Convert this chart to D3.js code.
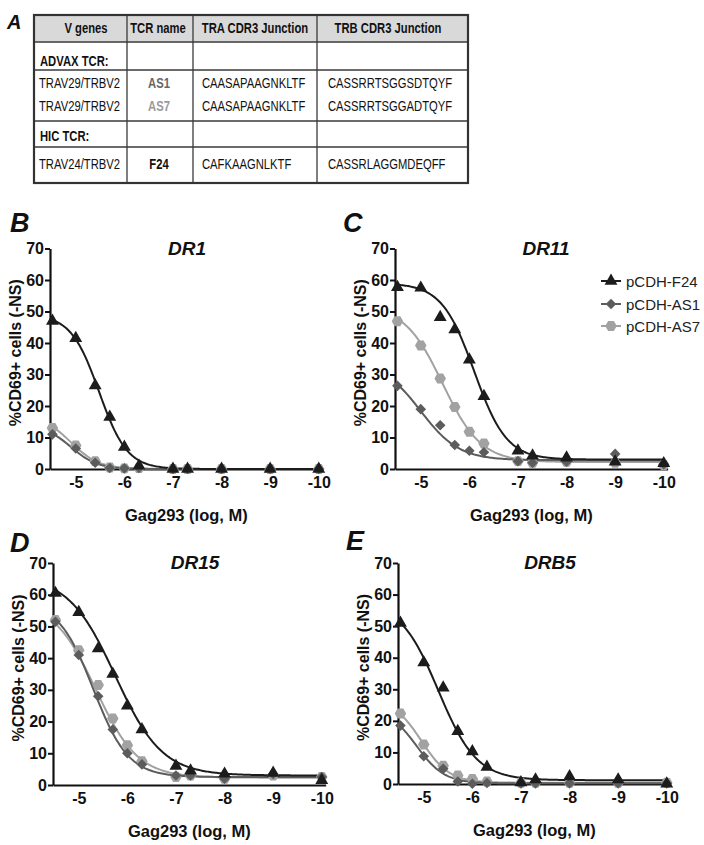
<!DOCTYPE html>
<html>
<head>
<meta charset="utf-8">
<script src="https://cdn.jsdelivr.net/npm/d3@7"></script>
<style>
  html, body { margin: 0; padding: 0; background: #ffffff; }
  svg { display: block; }
  text { font-family: "Liberation Sans", Arial, sans-serif; }
</style>
</head>
<body>
<script>
// ---------------- DATA ----------------
// Table (panel A)
const tableHeaders = ["V genes", "TCR name", "TRA CDR3 Junction", "TRB CDR3 Junction"];
const tcrGroups = ["ADVAX TCR:", "HIC TCR:"];
const vGenes = ["TRAV29/TRBV2", "TRAV29/TRBV2", "TRAV24/TRBV2"];
const tcrNames = ["AS1", "AS7", "F24"];
const traJunctions = ["CAASAPAAGNKLTF", "CAASAPAAGNKLTF", "CAFKAAGNLKTF"];
const trbJunctions = ["CASSRRTSGGSDTQYF", "CASSRRTSGGADTQYF", "CASSRLAGGMDEQFF"];

// Dose-response panels (B-E)
const panelLetters = ["B", "C", "D", "E"];
const panelTitles = ["DR1", "DR11", "DR15", "DRB5"];
const seriesNames = ["pCDH-F24", "pCDH-AS1", "pCDH-AS7"];
const logDoses = [-4.52, -5, -5.4, -5.7, -6, -6.3, -7, -7.3, -8, -9, -10];
const xTickValues = [-5, -6, -7, -8, -9, -10];
const yTickValues = [0, 10, 20, 30, 40, 50, 60, 70];
const xAxisTitle = "Gag293 (log, M)";
const yAxisTitle = "%CD69+ cells (-NS)";

const dr1F24 = [47, 41.5, 26.5, 16.5, 7, 1, 0, 0, 0, 0, 0];
const dr1AS1 = [11, 6.5, 2, 0.3, 0.2, 0.3, 0, 0, 0, 0, 0];
const dr1AS7 = [13, 7.5, 2.5, 0.5, 0.2, 0.3, 0, 0, 0, 0, 0];

const dr11F24 = [57.7, 57.5, 48.2, 44.3, 34.7, 23.1, 5.8, 4.2, 3.6, 2.3, 1.8];
const dr11AS1 = [26.4, 19.0, 13.9, 7.6, 5.8, 5.3, 2.5, 2.0, 2.3, 4.8, 1.5];
const dr11AS7 = [46.9, 39.2, 28.7, 19.7, 11.8, 8.1, 2.5, 2.0, 2.3, 2.0, 1.3];

const dr15F24 = [60.5, 54.5, 43, 35, 25, 17.5, 6, 4.5, 3.5, 3.8, 1.5];
const dr15AS1 = [51.5, 41, 28, 17.5, 10, 6.5, 3, 3, 2, 3.5, 2.5];
const dr15AS7 = [52, 42.5, 31.5, 21, 12.5, 7.5, 2.5, 3, 2, 3, 2.5];

const drb5F24 = [51, 38.5, 30.5, 16.7, 10.3, 5.4, 0.5, 1.4, 2.4, 1.4, 0.1];
const drb5AS1 = [18.5, 8.8, 4.8, 0.8, 0.1, 0.3, 0.2, 0.2, 0.2, 0.2, 0.2];
const drb5AS7 = [22.3, 12.5, 5.8, 2.7, 1.6, 0.8, 0.4, 0.4, 0.4, 0.4, 0.4];

// Sigmoidal fit parameters: [top, bottom, logEC50, hillSlope]
const dr1FitF24 = [49, 0, -5.48, 1.5];
const dr1FitAS1 = [14, 0, -4.9, 1.6];
const dr1FitAS7 = [17, 0, -4.9, 1.5];
const dr11FitF24 = [59, 3, -6.1, 1.3];
const dr11FitAS1 = [34, 2.8, -5.0, 1.1];
const dr11FitAS7 = [52, 2.2, -5.45, 1.1];
const dr15FitF24 = [66, 3, -5.75, 0.9];
const dr15FitAS1 = [58, 2.5, -5.3, 1.2];
const dr15FitAS7 = [58, 2.3, -5.35, 1.0];
const drb5FitF24 = [58, 1.2, -5.3, 1.1];
const drb5FitAS1 = [24, 0.2, -4.85, 1.5];
const drb5FitAS7 = [27, 0.4, -4.95, 1.5];

// ---------------- STYLE / LAYOUT ----------------
const seriesColors = ["#1c1c1c", "#5c5c5c", "#a2a2a2"];
const W = 704, H = 845;
const svg = d3.select("body").append("svg").attr("width", W).attr("height", H);

// ---- Panel A: table ----
const tb = { left: 34, right: 468, top: 15, bottom: 183 };
const colX = [tb.left, 127, 193, 317, tb.right];
const rowY = [tb.top, 42, 70, 121, 147, tb.bottom];
const gT = svg.append("g");

gT.append("rect").attr("x", tb.left).attr("y", tb.top)
  .attr("width", tb.right - tb.left).attr("height", rowY[1] - tb.top)
  .attr("fill", "#d9d9d9");

// inner horizontal lines
rowY.slice(1, -1).forEach(y => {
  gT.append("line").attr("x1", tb.left).attr("x2", tb.right).attr("y1", y).attr("y2", y)
    .attr("stroke", "#3a3a3a").attr("stroke-width", 1.3);
});
// inner vertical lines
colX.slice(1, -1).forEach(x => {
  gT.append("line").attr("x1", x).attr("x2", x).attr("y1", tb.top).attr("y2", tb.bottom)
    .attr("stroke", "#3a3a3a").attr("stroke-width", 1.3);
});
gT.append("rect").attr("x", tb.left).attr("y", tb.top)
  .attr("width", tb.right - tb.left).attr("height", tb.bottom - tb.top)
  .attr("fill", "none").attr("stroke", "#333").attr("stroke-width", 2.2);

function tText(str, x, y, opts = {}) {
  gT.append("text")
    .attr("transform", `translate(${x},${y}) scale(0.75,1)`)
    .attr("text-anchor", opts.anchor || "start")
    .attr("font-size", 15)
    .attr("font-weight", opts.bold ? "bold" : "normal")
    .attr("fill", opts.color || "#111")
    .text(str);
}
const headerCenters = [86, 158, 255, 388];
tableHeaders.forEach((h, i) => tText(h, headerCenters[i], 33, { anchor: "middle", bold: true }));
tText(tcrGroups[0], 40, 66, { bold: true });
tText(tcrGroups[1], 40, 141, { bold: true });
const dataRowBase = [88, 111, 169];
const nameColors = ["#666666", "#9a9a9a", "#111111"];
vGenes.forEach((v, i) => {
  tText(v, 39, dataRowBase[i]);
  tText(tcrNames[i], 159, dataRowBase[i], { anchor: "middle", bold: true, color: nameColors[i] });
  tText(traJunctions[i], 202, dataRowBase[i]);
  tText(trbJunctions[i], 328, dataRowBase[i]);
});
svg.append("text").attr("x", 7).attr("y", 29).attr("font-size", 20)
  .attr("font-weight", "bold").attr("font-style", "italic").attr("fill", "#111").text("A");

// ---- Symbols ----
const symTriangle = d3.symbolTriangle;
const symDiamond = {
  draw(ctx, size) {
    const r = Math.sqrt(size / 2);
    ctx.moveTo(0, -r); ctx.lineTo(r, 0); ctx.lineTo(0, r); ctx.lineTo(-r, 0); ctx.closePath();
  }
};
const symHexagon = {
  draw(ctx, size) {
    const r = Math.sqrt(2 * size / (3 * Math.sqrt(3)));
    for (let i = 0; i < 6; i++) {
      const a = Math.PI / 3 * i;
      const px = r * Math.cos(a), py = r * Math.sin(a);
      if (i === 0) ctx.moveTo(px, py); else ctx.lineTo(px, py);
    }
    ctx.closePath();
  }
};
const seriesSymbols = [symTriangle, symDiamond, symHexagon];
const seriesSizes = [72, 56, 86];

// ---- Panels ----
const panelData = [
  [dr1F24, dr1AS1, dr1AS7],
  [dr11F24, dr11AS1, dr11AS7],
  [dr15F24, dr15AS1, dr15AS7],
  [drb5F24, drb5AS1, drb5AS7]
];
const panelFits = [
  [dr1FitF24, dr1FitAS1, dr1FitAS7],
  [dr11FitF24, dr11FitAS1, dr11FitAS7],
  [dr15FitF24, dr15FitAS1, dr15FitAS7],
  [drb5FitF24, drb5FitAS1, drb5FitAS7]
];
const panelBoxes = [
  { left: 50, top: 248.5, bottom: 469, letterX: 10, letterY: 232, titleX: 187 },
  { left: 395, top: 248.5, bottom: 469, letterX: 343, letterY: 232, titleX: 546 },
  { left: 53, top: 563, bottom: 785, letterX: 10, letterY: 552, titleX: 195 },
  { left: 398, top: 563, bottom: 784, letterX: 346, letterY: 550, titleX: 550 }
];
const xDomain = [-4.47, -10.08];
const pxPerUnit = 48.6;

const hillFit = (p, x) => p[1] + (p[0] - p[1]) / (1 + Math.pow(10, (p[2] - x) * p[3]));

panelBoxes.forEach((b, pi) => {
  const g = svg.append("g");
  const right = b.left + (xDomain[0] - xDomain[1]) * pxPerUnit;
  const x = d3.scaleLinear().domain(xDomain).range([b.left, right]);
  const y = d3.scaleLinear().domain([0, 70]).range([b.bottom, b.top]);

  // panel letter
  svg.append("text").attr("x", b.letterX).attr("y", b.letterY)
    .attr("font-size", 27).attr("font-weight", "bold").attr("font-style", "italic")
    .attr("fill", "#111").text(panelLetters[pi]);

  // title
  g.append("text").attr("x", b.titleX).attr("y", b.top + 6)
    .attr("text-anchor", "middle").attr("font-size", 19)
    .attr("font-weight", "bold").attr("font-style", "italic").attr("fill", "#111")
    .text(panelTitles[pi]);

  // axes
  const yAx = g.append("g").attr("transform", `translate(${b.left},0)`)
    .call(d3.axisLeft(y).tickValues(yTickValues).tickSize(5).tickSizeOuter(0).tickPadding(1));
  const xAx = g.append("g").attr("transform", `translate(0,${b.bottom})`)
    .call(d3.axisBottom(x).tickValues(xTickValues).tickSize(0).tickSizeOuter(0).tickPadding(8)
      .tickFormat(d3.format("d")));
  [yAx, xAx].forEach(a => {
    a.selectAll("path.domain").attr("stroke", "#111").attr("stroke-width", 2.2);
    a.selectAll(".tick line").attr("stroke", "#111").attr("stroke-width", 2);
    a.selectAll(".tick text").attr("font-size", 16).attr("font-weight", "bold")
      .attr("fill", "#111").attr("font-family", "'Liberation Sans', Arial, sans-serif");
  });
  xAx.selectAll(".tick text").text(d => "-" + Math.abs(d));

  // axis titles
  g.append("text").attr("x", (b.left + right) / 2).attr("y", b.bottom + 52)
    .attr("text-anchor", "middle").attr("font-size", 16.5).attr("font-weight", "bold")
    .attr("fill", "#111").text(xAxisTitle);
  g.append("text")
    .attr("transform", `translate(${b.left - 29},${(b.top + b.bottom) / 2 - 6}) rotate(-90)`)
    .attr("text-anchor", "middle").attr("font-size", 16).attr("font-weight", "bold")
    .attr("fill", "#111").text(yAxisTitle);

  // fit curves (drawn AS7, AS1, F24)
  const order = [2, 1, 0];
  const xs = d3.range(0, 201).map(i => logDoses[0] + (logDoses[logDoses.length - 1] - logDoses[0]) * i / 200);
  const line = d3.line().x(d => x(d[0])).y(d => y(d[1]));
  order.forEach(si => {
    const p = panelFits[pi][si];
    g.append("path").datum(xs.map(v => [v, hillFit(p, v)]))
      .attr("d", line).attr("fill", "none")
      .attr("stroke", seriesColors[si]).attr("stroke-width", 2);
  });
  // markers
  order.forEach(si => {
    const vals = panelData[pi][si];
    g.append("g").selectAll("path").data(vals).join("path")
      .attr("transform", (d, i) => `translate(${x(logDoses[i])},${y(d)})`)
      .attr("d", d3.symbol().type(seriesSymbols[si]).size(seriesSizes[si]))
      .attr("fill", seriesColors[si]);
  });

  // legend in panel C
  if (pi === 1) {
    const lg = g.append("g");
    const legY = [281, 304, 326];
    seriesNames.forEach((n, si) => {
      lg.append("line").attr("x1", 601).attr("x2", 621).attr("y1", legY[si]).attr("y2", legY[si])
        .attr("stroke", seriesColors[si]).attr("stroke-width", 2);
      lg.append("path").attr("transform", `translate(611,${legY[si]})`)
        .attr("d", d3.symbol().type(seriesSymbols[si]).size(seriesSizes[si]))
        .attr("fill", seriesColors[si]);
      lg.append("text").attr("x", 626).attr("y", legY[si] + 5.5)
        .attr("font-size", 15).attr("fill", "#222").text(n);
    });
  }
});
</script>
</body>
</html>
